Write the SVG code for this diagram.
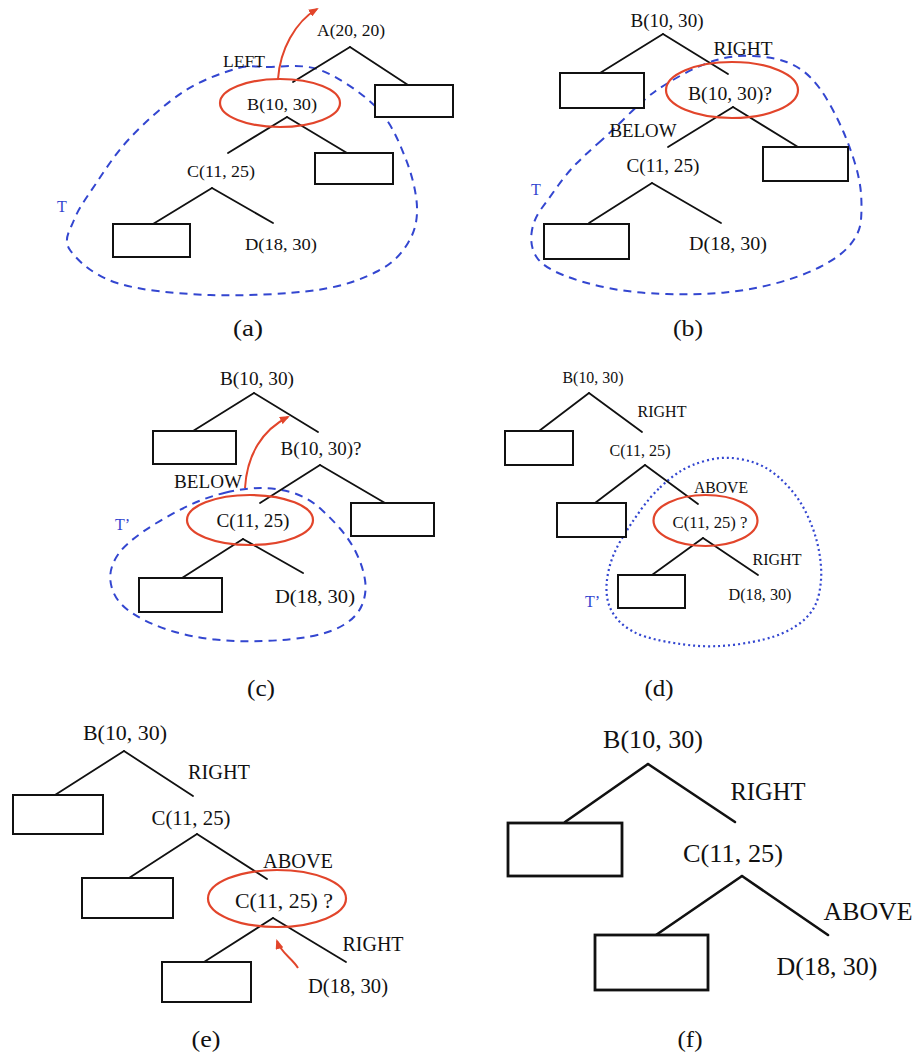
<svg xmlns="http://www.w3.org/2000/svg" width="915" height="1057" viewBox="0 0 915 1057">
  <style>
    .lbl { font-family: "Liberation Serif", "Times New Roman", serif; fill: #111; text-anchor: middle; }
    .cap { font-family: "Liberation Serif", "Times New Roman", serif; fill: #111; text-anchor: middle; font-size: 23px; }
    .tl { font-family: "Liberation Serif", "Times New Roman", serif; fill: #3346d0; font-size: 16px; }
    .edge { stroke: #111; stroke-width: 1.8; fill: none; stroke-linecap: round; }
    .edge-f { stroke: #111; stroke-width: 2.6; fill: none; stroke-linecap: round; }
    .box { fill: #fff; stroke: #111; stroke-width: 2; }
    .box-f { fill: #fff; stroke: #111; stroke-width: 2.8; }
    .sel { fill: none; stroke: #e2452b; stroke-width: 2.2; }
    .move { fill: none; stroke: #e2452b; stroke-width: 2; marker-end: url(#head); }
    .region { fill: none; stroke: #3346d0; stroke-width: 2; stroke-dasharray: 8 6; }
    .region-dot { fill: none; stroke: #3346d0; stroke-width: 2.2; stroke-dasharray: 2 3; }
  </style>
  <defs>
    <marker id="head" viewBox="0 0 10 8" refX="8" refY="4" markerWidth="10" markerHeight="8" markerUnits="userSpaceOnUse" orient="auto">
      <path d="M0,0 L10,4 L0,8 Z" fill="#e2452b"/>
    </marker>
  </defs>
  <rect width="915" height="1057" fill="#fff"/>

  <!-- (a) -->
  <g id="panel-a">
    <path class="region" d="M267,67 C281.2,67.2 301.7,63.2 320,70 C338.3,76.8 362.8,93.5 377,108 C391.2,122.5 398.3,140.5 405,157 C411.7,173.5 416.5,192.7 417,207 C417.5,221.3 414.5,232.3 408,243 C401.5,253.7 393.2,263.2 378,271 C362.8,278.8 345,286 317,290 C289,294 243.3,296.2 210,295 C176.7,293.8 140.3,290.5 117,283 C93.7,275.5 77.2,260.5 70,250 C62.8,239.5 69.8,230.8 74,220 C78.2,209.2 85.7,198.7 95,185 C104.3,171.3 115.3,153.5 130,138 C144.7,122.5 165.5,103.5 183,92 C200.5,80.5 221,73.2 235,69 C249,64.8 252.8,66.8 267,67 Z"/>
    <g class="connectors">
      <line class="edge" x1="350" y1="47" x2="293" y2="82"/>
      <line class="edge" x1="350" y1="47" x2="408" y2="85"/>
      <line class="edge" x1="287" y1="117" x2="228" y2="153"/>
      <line class="edge" x1="287" y1="117" x2="347" y2="153"/>
      <line class="edge" x1="212" y1="188" x2="153" y2="224"/>
      <line class="edge" x1="212" y1="188" x2="273" y2="223"/>
      <path class="move" d="M278,79 C280,50 295,22 317,9"/>
    </g>
    <g id="a-A"><text class="lbl" x="351" y="36" font-size="17" textLength="68" lengthAdjust="spacingAndGlyphs">A(20, 20)</text></g>
    <g id="a-leaf1"><rect class="box" x="375" y="85" width="78" height="32"/></g>
    <g id="a-B">
      <ellipse class="sel" cx="280" cy="103" rx="60" ry="24"/>
      <text class="lbl" x="282" y="110" font-size="17" textLength="70" lengthAdjust="spacingAndGlyphs">B(10, 30)</text>
    </g>
    <g id="a-left"><text class="lbl" x="244" y="67" font-size="17" textLength="42" lengthAdjust="spacingAndGlyphs">LEFT</text></g>
    <g id="a-leaf2"><rect class="box" x="315" y="153" width="78" height="31"/></g>
    <g id="a-C"><text class="lbl" x="221" y="177" font-size="17" textLength="68" lengthAdjust="spacingAndGlyphs">C(11, 25)</text></g>
    <g id="a-leaf3"><rect class="box" x="113" y="224" width="77" height="33"/></g>
    <g id="a-D"><text class="lbl" x="281" y="250" font-size="17" textLength="72" lengthAdjust="spacingAndGlyphs">D(18, 30)</text></g>
    <g id="a-T"><text class="tl" x="57" y="212">T</text></g>
    <text class="cap" x="248" y="336" textLength="30" lengthAdjust="spacingAndGlyphs">(a)</text>
  </g>

  <!-- (b) -->
  <g id="panel-b">
    <path class="region" d="M598.5,143 Q610,133 626.5,116.5 Q643,100 655,91.5 Q667,83 683.5,74 Q700,65 716.5,60 Q733,55 753,56 Q773,57 786.5,62 Q800,67 810,77 Q820,87 828.5,102 Q837,117 843.5,132 Q850,147 855,163.5 Q860,180 861,193.5 Q862,207 861,220 Q860,233 850,245 Q840,257 820,267 Q800,277 775,283.5 Q750,290 725,292.5 Q700,295 666.5,294 Q633,293 608,288 Q583,283 563,275 Q543,267 536.5,257 Q530,247 531.5,233.5 Q533,220 541.5,208.5 Q550,197 558.5,185 Q567,173 577,163 Q587,153 598.5,143 Z"/>
    <g class="connectors">
      <line class="edge" x1="663" y1="34" x2="600" y2="73"/>
      <line class="edge" x1="663" y1="34" x2="728" y2="74"/>
      <line class="edge" x1="733" y1="107" x2="668" y2="147"/>
      <line class="edge" x1="733" y1="107" x2="798" y2="147"/>
      <line class="edge" x1="652" y1="183" x2="589" y2="223"/>
      <line class="edge" x1="652" y1="183" x2="721" y2="223"/>
    </g>
    <g id="b-B"><text class="lbl" x="667" y="27" font-size="18.5" textLength="73" lengthAdjust="spacingAndGlyphs">B(10, 30)</text></g>
    <g id="b-leaf1"><rect class="box" x="560" y="73" width="84" height="35"/></g>
    <g id="b-right"><text class="lbl" x="743" y="55" font-size="18.5" textLength="59" lengthAdjust="spacingAndGlyphs">RIGHT</text></g>
    <g id="b-Bq">
      <ellipse class="sel" cx="732" cy="90" rx="66" ry="28"/>
      <text class="lbl" x="730" y="100" font-size="18.5" textLength="84" lengthAdjust="spacingAndGlyphs">B(10, 30)?</text>
    </g>
    <g id="b-below"><text class="lbl" x="643" y="137" font-size="18.5" textLength="67" lengthAdjust="spacingAndGlyphs">BELOW</text></g>
    <g id="b-leaf2"><rect class="box" x="763" y="147" width="85" height="34"/></g>
    <g id="b-C"><text class="lbl" x="663" y="172" font-size="18.5" textLength="73" lengthAdjust="spacingAndGlyphs">C(11, 25)</text></g>
    <g id="b-leaf3"><rect class="box" x="544" y="224" width="85" height="35"/></g>
    <g id="b-D"><text class="lbl" x="728" y="250" font-size="18.5" textLength="78" lengthAdjust="spacingAndGlyphs">D(18, 30)</text></g>
    <g id="b-T"><text class="tl" x="531" y="195">T</text></g>
    <text class="cap" x="688" y="336" textLength="30" lengthAdjust="spacingAndGlyphs">(b)</text>
  </g>

  <!-- (c) -->
  <g id="panel-c">
    <path class="region" d="M226,492.5 Q245,488 261,488 Q277,488 292,492.5 Q307,497 318.5,507 Q330,517 340,528.5 Q350,540 356.5,553.5 Q363,567 365,580 Q367,593 362,605 Q357,617 343.5,625 Q330,633 310,636.5 Q290,640 265,641 Q240,642 215,639.5 Q190,637 168.5,630 Q147,623 132,613 Q117,603 112.5,590 Q108,577 112.5,565 Q117,553 128.5,543 Q140,533 156.5,523 Q173,513 190,505 Q207,497 226,492.5 Z"/>
    <g class="connectors">
      <line class="edge" x1="254" y1="393" x2="193" y2="431"/>
      <line class="edge" x1="254" y1="393" x2="318" y2="432"/>
      <line class="edge" x1="320" y1="465" x2="260" y2="503"/>
      <line class="edge" x1="320" y1="465" x2="385" y2="503"/>
      <line class="edge" x1="243" y1="539" x2="182" y2="578"/>
      <line class="edge" x1="243" y1="539" x2="303" y2="573"/>
      <path class="move" d="M245,488 C247,455 262,430 288,417"/>
    </g>
    <g id="c-B"><text class="lbl" x="257" y="385" font-size="18.5" textLength="74" lengthAdjust="spacingAndGlyphs">B(10, 30)</text></g>
    <g id="c-leaf1"><rect class="box" x="153" y="431" width="83" height="33"/></g>
    <g id="c-Bq"><text class="lbl" x="321" y="455" font-size="18.5" textLength="81" lengthAdjust="spacingAndGlyphs">B(10, 30)?</text></g>
    <g id="c-below"><text class="lbl" x="208" y="488" font-size="18.5" textLength="68" lengthAdjust="spacingAndGlyphs">BELOW</text></g>
    <g id="c-leaf2"><rect class="box" x="351" y="503" width="83" height="33"/></g>
    <g id="c-C">
      <ellipse class="sel" cx="250" cy="520" rx="63" ry="25"/>
      <text class="lbl" x="253" y="527" font-size="18.5" textLength="73" lengthAdjust="spacingAndGlyphs">C(11, 25)</text>
    </g>
    <g id="c-leaf3"><rect class="box" x="139" y="578" width="83" height="34"/></g>
    <g id="c-D"><text class="lbl" x="315" y="603" font-size="18.5" textLength="80" lengthAdjust="spacingAndGlyphs">D(18, 30)</text></g>
    <g id="c-T"><text class="tl" x="115" y="530">T’</text></g>
    <text class="cap" x="261" y="696" textLength="28" lengthAdjust="spacingAndGlyphs">(c)</text>
  </g>

  <!-- (d) -->
  <g id="panel-d">
    <path class="region-dot" d="M660,487.5 Q670,478 680,471.5 Q690,465 706.5,460.5 Q723,456 740,459 Q757,462 768.5,469.5 Q780,477 790,488.5 Q800,500 806.5,513.5 Q813,527 816.5,540 Q820,553 821,566.5 Q822,580 819,594 Q816,608 806.5,617.5 Q797,627 782,633.5 Q767,640 740,644 Q713,648 688,645 Q663,642 646.5,637 Q630,632 620,622 Q610,612 607.5,599.5 Q605,587 608.5,571 Q612,555 621,540 Q630,525 640,511 Q650,497 660,487.5 Z"/>
    <g class="connectors">
      <line class="edge" x1="589" y1="393" x2="539" y2="431"/>
      <line class="edge" x1="589" y1="393" x2="642" y2="432"/>
      <line class="edge" x1="645" y1="465" x2="595" y2="503"/>
      <line class="edge" x1="645" y1="465" x2="698" y2="504"/>
      <line class="edge" x1="703" y1="538" x2="652" y2="575"/>
      <line class="edge" x1="703" y1="538" x2="758" y2="575"/>
    </g>
    <g id="d-B"><text class="lbl" x="593" y="383" font-size="17.5" textLength="61" lengthAdjust="spacingAndGlyphs">B(10, 30)</text></g>
    <g id="d-leaf1"><rect class="box" x="505" y="431" width="68" height="34"/></g>
    <g id="d-right1"><text class="lbl" x="662" y="417" font-size="17.5" textLength="49" lengthAdjust="spacingAndGlyphs">RIGHT</text></g>
    <g id="d-C"><text class="lbl" x="640" y="456" font-size="17.5" textLength="61" lengthAdjust="spacingAndGlyphs">C(11, 25)</text></g>
    <g id="d-leaf2"><rect class="box" x="557" y="503" width="69" height="34"/></g>
    <g id="d-above"><text class="lbl" x="721" y="493" font-size="17.5" textLength="54" lengthAdjust="spacingAndGlyphs">ABOVE</text></g>
    <g id="d-Cq">
      <ellipse class="sel" cx="705.5" cy="520.5" rx="52" ry="25.5"/>
      <text class="lbl" x="710" y="528" font-size="17.5" textLength="75" lengthAdjust="spacingAndGlyphs">C(11, 25) ?</text>
    </g>
    <g id="d-right2"><text class="lbl" x="777" y="565" font-size="17.5" textLength="49" lengthAdjust="spacingAndGlyphs">RIGHT</text></g>
    <g id="d-leaf3"><rect class="box" x="618" y="575" width="67" height="33"/></g>
    <g id="d-D"><text class="lbl" x="760" y="600" font-size="17.5" textLength="63" lengthAdjust="spacingAndGlyphs">D(18, 30)</text></g>
    <g id="d-T"><text class="tl" x="585" y="607" font-size="15">T’</text></g>
    <text class="cap" x="659" y="696" textLength="29" lengthAdjust="spacingAndGlyphs">(d)</text>
  </g>

  <!-- (e) -->
  <g id="panel-e">
    <g class="connectors">
      <line class="edge" x1="124" y1="751" x2="55" y2="795"/>
      <line class="edge" x1="124" y1="751" x2="193" y2="796"/>
      <line class="edge" x1="197" y1="834" x2="129" y2="878"/>
      <line class="edge" x1="197" y1="834" x2="267" y2="879"/>
      <line class="edge" x1="273" y1="918" x2="204" y2="962"/>
      <line class="edge" x1="273" y1="918" x2="346" y2="962"/>
      <path class="move" d="M298,968 C292,958 281,953 277,941"/>
    </g>
    <g id="e-B"><text class="lbl" x="125" y="740" font-size="20" textLength="84" lengthAdjust="spacingAndGlyphs">B(10, 30)</text></g>
    <g id="e-leaf1"><rect class="box" x="13" y="795" width="90" height="39"/></g>
    <g id="e-right1"><text class="lbl" x="219" y="779" font-size="20" textLength="62" lengthAdjust="spacingAndGlyphs">RIGHT</text></g>
    <g id="e-C"><text class="lbl" x="191" y="825" font-size="20" textLength="79" lengthAdjust="spacingAndGlyphs">C(11, 25)</text></g>
    <g id="e-leaf2"><rect class="box" x="82" y="878" width="91" height="40"/></g>
    <g id="e-above"><text class="lbl" x="298" y="868" font-size="20" textLength="70" lengthAdjust="spacingAndGlyphs">ABOVE</text></g>
    <g id="e-Cq">
      <ellipse class="sel" cx="277" cy="898.5" rx="69" ry="28.5"/>
      <text class="lbl" x="284" y="908" font-size="20" textLength="98" lengthAdjust="spacingAndGlyphs">C(11, 25) ?</text>
    </g>
    <g id="e-right2"><text class="lbl" x="373" y="951" font-size="20" textLength="61" lengthAdjust="spacingAndGlyphs">RIGHT</text></g>
    <g id="e-leaf3"><rect class="box" x="162" y="962" width="89" height="40"/></g>
    <g id="e-D"><text class="lbl" x="348" y="993" font-size="20" textLength="80" lengthAdjust="spacingAndGlyphs">D(18, 30)</text></g>
    <text class="cap" x="206" y="1047" textLength="29" lengthAdjust="spacingAndGlyphs">(e)</text>
  </g>

  <!-- (f) -->
  <g id="panel-f">
    <g class="connectors">
      <line class="edge-f" x1="648" y1="764" x2="565" y2="822"/>
      <line class="edge-f" x1="648" y1="764" x2="735" y2="822"/>
      <line class="edge-f" x1="742" y1="876" x2="656" y2="935"/>
      <line class="edge-f" x1="742" y1="876" x2="828" y2="935"/>
    </g>
    <g id="f-B"><text class="lbl" x="653" y="748" font-size="26" textLength="100" lengthAdjust="spacingAndGlyphs">B(10, 30)</text></g>
    <g id="f-leaf1"><rect class="box-f" x="508" y="823" width="114" height="53"/></g>
    <g id="f-right"><text class="lbl" x="768" y="800" font-size="26" textLength="75" lengthAdjust="spacingAndGlyphs">RIGHT</text></g>
    <g id="f-C"><text class="lbl" x="733" y="862" font-size="26" textLength="100" lengthAdjust="spacingAndGlyphs">C(11, 25)</text></g>
    <g id="f-leaf2"><rect class="box-f" x="595" y="935" width="113" height="55"/></g>
    <g id="f-above"><text class="lbl" x="868" y="920" font-size="26" textLength="89" lengthAdjust="spacingAndGlyphs">ABOVE</text></g>
    <g id="f-D"><text class="lbl" x="827" y="975" font-size="26" textLength="101" lengthAdjust="spacingAndGlyphs">D(18, 30)</text></g>
    <text class="cap" x="690" y="1047" textLength="25" lengthAdjust="spacingAndGlyphs">(f)</text>
  </g>
</svg>
